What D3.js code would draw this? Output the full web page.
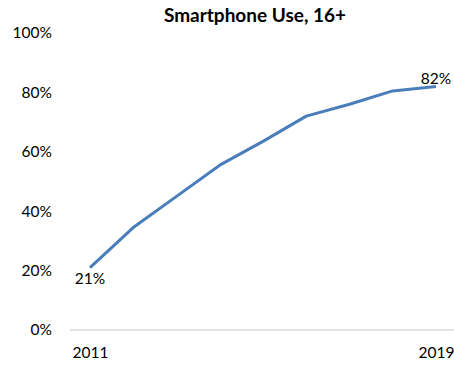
<!DOCTYPE html>
<html><head><meta charset="utf-8">
<script src="https://cdn.jsdelivr.net/npm/d3@7"></script>
<style>body{margin:0;background:#fff}</style>
</head><body>
<script>
const years = ["2011","2012","2013","2014","2015","2016","2017","2018","2019"];
const values = [21, 34.5, 45, 55.5, 63.5, 72, 76, 80.5, 82];
const yTicks = [0, 20, 40, 60, 80, 100];
const xTickLabels = ["2011", "2019"];
const title = "Smartphone Use, 16+";

const W = 454, H = 365;
const FONT = "Lato, 'Open Sans', sans-serif";
const FS = 15.5;
const svg = d3.select("body").append("svg").attr("width", W).attr("height", H)
  .style("font-family", FONT);

const x = d3.scalePoint().domain(years).range([90, 436]);
const y = d3.scaleLinear().domain([0, 100]).range([330, 33]);

svg.append("text").attr("x", 255).attr("y", 22).attr("text-anchor", "middle")
  .attr("font-weight", "bold").attr("font-size", 19).attr("fill", "#000").text(title);

// baseline
svg.append("line").attr("x1", 70).attr("x2", 454).attr("y1", y(0)).attr("y2", y(0))
  .attr("stroke", "#d9d9d9").attr("stroke-width", 1.5);

// y axis labels
const yAxis = d3.axisLeft(y).tickValues(yTicks).tickFormat(d => d + "%").tickSize(0).tickPadding(0);
const gy = svg.append("g").attr("transform", "translate(52,0)").call(yAxis);
gy.select(".domain").remove();
gy.selectAll("text").attr("font-size", FS).attr("fill", "#000").style("font-family", FONT);

// x axis labels
const xAxis = d3.axisBottom(x).tickValues(xTickLabels).tickSize(0).tickPadding(0);
const gx = svg.append("g").attr("transform", "translate(0,353)").call(xAxis);
gx.select(".domain").remove();
gx.selectAll("text").attr("font-size", FS).attr("fill", "#000").attr("dy", "0.35em").style("font-family", FONT);

const line = d3.line().x((d, i) => x(years[i])).y(d => y(d));
svg.append("path").datum(values).attr("d", line).attr("fill", "none")
  .attr("stroke", "#4a7ebb").attr("stroke-width", 3).attr("stroke-linejoin", "round");

// data labels
svg.append("text").attr("x", x(years[0])).attr("y", y(values[0]) + 16).attr("text-anchor", "middle")
  .attr("font-size", FS).attr("fill", "#000").text(values[0] + "%");
const last = values.length - 1;
svg.append("text").attr("x", x(years[last])).attr("y", y(values[last]) - 2).attr("text-anchor", "middle")
  .attr("font-size", FS).attr("fill", "#000").text(values[last] + "%");
</script>
</body></html>
